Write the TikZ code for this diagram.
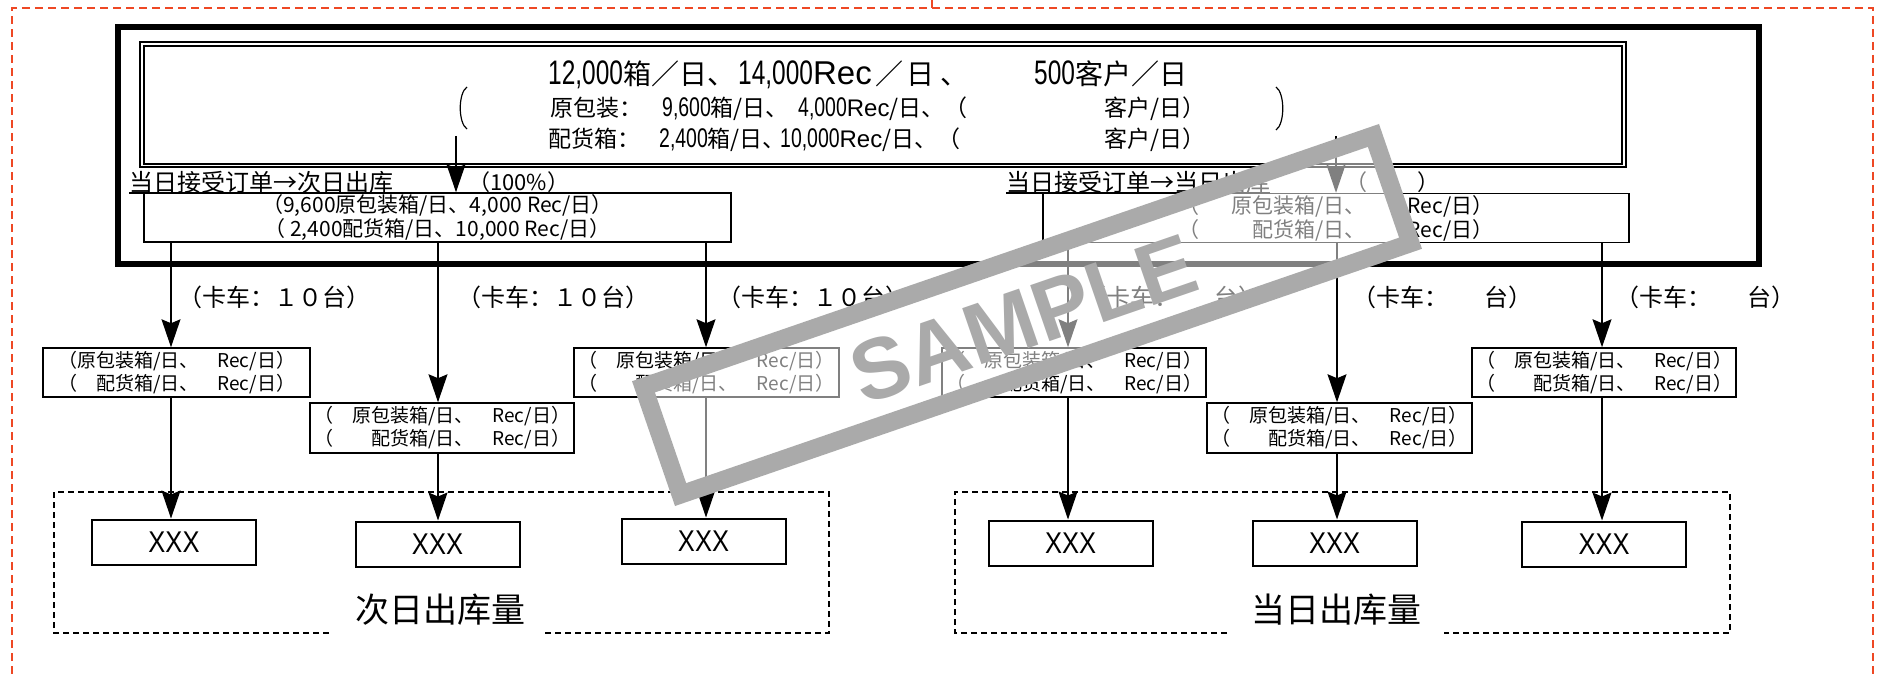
\documentclass[tikz,border=0pt]{standalone}
\usepackage{fontspec}
\setmainfont{Noto Sans CJK SC}
\newfontfamily\latfont[FakeStretch=0.72]{Liberation Sans}
\newfontfamily\latnorm{Liberation Sans}
\newfontfamily\xfont[FakeStretch=0.85]{Liberation Sans}
\newfontfamily\wmfont{Liberation Sans}
\usetikzlibrary{arrows.meta}
\definecolor{redb}{RGB}{238,72,36}
\definecolor{wmgray}{RGB}{170,170,170}
\newcommand{\setfs}[1]{\fontsize{#1}{#1}\selectfont}
\begin{document}
\begin{tikzpicture}[x=1pt,y=-1pt,
  arr/.style={-{Stealth[length=28pt,width=19pt,inset=4pt]}, line width=1.3pt},
  bx/.style={draw, line width=1.5pt, inner sep=0pt},
  mbox/.style={bx, minimum width=587pt, minimum height=49pt, align=center, font=\fontsize{21}{24}\selectfont},
  lbox/.style={bx, minimum width=265pt, minimum height=49pt, align=left, font=\fontsize{19}{23}\selectfont},
  xbox/.style={draw, line width=2pt, minimum width=164pt, minimum height=45pt, inner sep=0pt, font=\xfont\setfs{30}},
  lbl/.style={inner sep=0pt, anchor=base west},
  dsh/.style={line width=2pt, dash pattern=on 6pt off 4pt},
  redd/.style={redb, line width=1.5pt, dash pattern=on 8pt off 5pt}]
\fill[white] (0,0) rectangle (1879,674);
\useasboundingbox (0,0) rectangle (1879,674);
% page border
\draw[redd] (12,674) -- (12,8) -- (1873,8) -- (1873,674);
\draw[redd] (932,0) -- (932,8);
% thick frame
\draw[line width=6pt] (118,27) rectangle (1759,264);
% double box
\draw[line width=1.2pt] (140,42) rectangle (1626,167);
\draw[line width=1.2pt] (144,46) rectangle (1622,164);
% top texts
\node[lbl, font=\setfs{28}] (t1a) at (548,85) {{\latfont\setfs{34}12,000}箱／日、};
\node[lbl, font=\setfs{28}] (t1b) at (738,85) {{\latfont\setfs{34}14,000}{\latnorm\setfs{33}Rec}\hspace{4pt}／\hspace{3pt}日\hspace{6pt}、};
\node[lbl, font=\setfs{28}] (t1c) at (1034,85) {{\latfont\setfs{34}500}客户／日};
\node[lbl, font=\setfs{23}] (t2a) at (550,117) {原包装：};
\node[lbl, font=\setfs{23}] (t2b) at (662,117) {{\latfont\setfs{27}9,600}箱/日、};
\node[lbl, font=\setfs{23}] (t2c) at (798,117) {{\latfont\setfs{27}4,000}{\latnorm\setfs{24}Rec}/日、（};
\node[lbl, font=\setfs{23}] (t2d) at (1104,117) {客户/日）};
\node[lbl, font=\setfs{23}] (t3a) at (548,148) {配货箱：};
\node[lbl, font=\setfs{23}] (t3b) at (659,148) {{\latfont\setfs{27}2,400}箱/日、};
\node[lbl, font=\setfs{23}] (t3c) at (780,148) {{\latfont\setfs{27}10,000}{\latnorm\setfs{24}Rec}/日、（};
\node[lbl, font=\setfs{23}] (t3d) at (1104,148) {客户/日）};
% brackets
\draw[line width=1.2pt] (467,87) .. controls (458,93) and (458,123) .. (467,129);
\draw[line width=1.2pt] (1276,87) .. controls (1285,93) and (1285,124) .. (1276,130);
% labels
\node[lbl, font=\setfs{24}] (lab1) at (129,191) {当日接受订单→次日出库};
\node[lbl, font=\setfs{22}] (pct1) at (468,190) {（100\%）};
\node[lbl, font=\setfs{24}] (lab2) at (1006,191) {当日接受订单→当日出库};
\node[lbl, font=\setfs{22}] (pct2) at (1345,190) {（\hspace{50pt}）};
\draw[line width=1.3pt] ([yshift=-2pt]lab1.base west) -- ([yshift=-2pt]lab1.base east);
\draw[line width=1.3pt] ([yshift=-2pt]lab2.base west) -- ([yshift=-2pt]lab2.base east);
% middle boxes
\node[mbox] (mL) at (437.5,217.5) {（9,600原包装箱/日、4,000 Rec/日）\\（ 2,400配货箱/日、10,000 Rec/日）};
\node[mbox, minimum width=586pt] (mR) at (1336,218) {（\hspace{1.5em}原包装箱/日、\hspace{2em}Rec/日）\\（\hspace{2.5em}配货箱/日、\hspace{2em}Rec/日）};
% lower boxes
\node[lbox, minimum width=267pt] (b1) at (176.5,372.5) {（原包装箱/日、　Rec/日）\\（　配货箱/日、　Rec/日）};
\node[lbox, minimum width=264pt, minimum height=50pt] (b2) at (442,428) {（　原包装箱/日、　Rec/日）\\（　　配货箱/日、　Rec/日）};
\node[lbox] (b3) at (706.5,372.5) {（　原包装箱/日、　Rec/日）\\（　　配货箱/日、　Rec/日）};
\node[lbox, minimum width=264pt] (b4) at (1074,372.5) {（　原包装箱/日、　Rec/日）\\（　　配货箱/日、　Rec/日）};
\node[lbox, minimum height=50pt] (b5) at (1339.5,428) {（　原包装箱/日、　Rec/日）\\（　　配货箱/日、　Rec/日）};
\node[lbox, minimum width=264pt] (b6) at (1604,372.5) {（　原包装箱/日、　Rec/日）\\（　　配货箱/日、　Rec/日）};
% truck labels
\node[lbl, font=\setfs{24}] (tr1) at (178,306) {（卡车：１０台）};
\node[lbl, font=\setfs{24}] (tr2) at (457,306) {（卡车：１０台）};
\node[lbl, font=\setfs{24}] (tr3) at (717,306) {（卡车：１０台）};
\node[lbl, font=\setfs{24}] (tr4) at (1082,306) {（卡车：\hspace{1.5em}台）};
\node[lbl, font=\setfs{24}] (tr5) at (1352,306) {（卡车：\hspace{1.5em}台）};
\node[lbl, font=\setfs{24}] (tr6) at (1615,306) {（卡车：\hspace{1.5em}台）};
% dashed groups
\draw[dsh] (329,633) -- (54,633) -- (54,492) -- (829,492) -- (829,633) -- (544,633);
\draw[dsh] (1227,633) -- (955,633) -- (955,492) -- (1730,492) -- (1730,633) -- (1444,633);
\node[font=\setfs{34}, inner sep=0pt] (g1) at (440,610) {次日出库量};
\node[font=\setfs{34}, inner sep=0pt] (g2) at (1336,610) {当日出库量};
% XXX boxes
\node[xbox] (x1) at (174,542) {XXX};
\node[xbox] (x2) at (437.5,544) {XXX};
\node[xbox] (x3) at (703.5,541) {XXX};
\node[xbox] (x4) at (1070.5,543) {XXX};
\node[xbox] (x5) at (1334.5,543) {XXX};
\node[xbox] (x6) at (1604,544) {XXX};
% connectors
\coordinate (sA) at (456,136);
\coordinate (sB) at (1336,136);
\draw[arr] (sA) -- (sA |- mL.north);
\draw[arr] (sB) -- (sB |- mR.north);
\coordinate (k1) at (171,0);
\coordinate (k2) at (438,0);
\coordinate (k3) at (706,0);
\coordinate (k4) at (1068,0);
\coordinate (k5) at (1337,0);
\coordinate (k6) at (1602,0);
\draw[arr] (k1 |- mL.south) -- (k1 |- b1.north);
\draw[arr] (k2 |- mL.south) -- (k2 |- b2.north);
\draw[arr] (k3 |- mL.south) -- (k3 |- b3.north);
\draw[arr] (k4 |- mR.south) -- (k4 |- b4.north);
\draw[arr] (k5 |- mR.south) -- (k5 |- b5.north);
\draw[arr] (k6 |- mR.south) -- (k6 |- b6.north);
\draw[arr] (k1 |- b1.south) -- (k1 |- x1.north);
\draw[arr] (k2 |- b2.south) -- (k2 |- x2.north);
\draw[arr] (k3 |- b3.south) -- (k3 |- x3.north);
\draw[arr] (k4 |- b4.south) -- (k4 |- x4.north);
\draw[arr] (k5 |- b5.south) -- (k5 |- x5.north);
\draw[arr] (k6 |- b6.south) -- (k6 |- x6.north);
% watermark
\begin{scope}[shift={(1027,315)}, rotate=19]
  \fill[white, fill opacity=0.5] (-395,-66) rectangle (395,66);
  \draw[wmgray, line width=18pt] (-386,-57) rectangle (386,57);
  \node[wmgray, rotate=19, font=\wmfont\bfseries\setfs{86}, inner sep=0pt] (wm) at (-5,3) {SAMPLE};
\end{scope}
\end{tikzpicture}
\end{document}
